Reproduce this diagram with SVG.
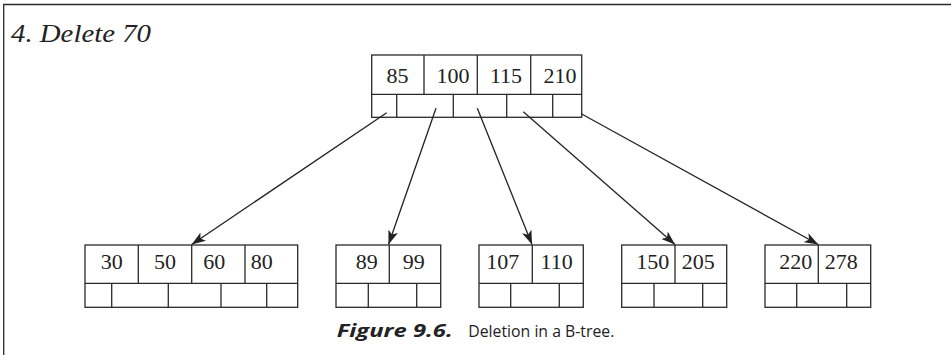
<svg xmlns="http://www.w3.org/2000/svg" width="951" height="355" viewBox="0 0 951 355">
<style>
.box{fill:#fff;stroke:#2a2a2a;stroke-width:1.3}
.ln{stroke:#2a2a2a;stroke-width:1.3;fill:none}
.k{font-family:"Liberation Serif",serif;font-size:22px;fill:#222;text-anchor:middle}
.conn{stroke:#222;stroke-width:1.3;fill:none;marker-end:url(#ah)}
.cap{font-family:"Open Sans","Liberation Sans",sans-serif;fill:#222}
</style>
<defs>
<marker id="ah" viewBox="0 0 14 10" refX="14" refY="5" markerWidth="14" markerHeight="10" markerUnits="userSpaceOnUse" orient="auto">
<path d="M0,0 L14,5 L0,10 L3.5,5 Z" fill="#222"/>
</marker>
</defs>
<rect width="951" height="355" fill="#fff"/>
<path class="ln" d="M3.7,355 V4.5 H951" stroke-width="1.8"/>
<text x="11" y="42" font-family="Liberation Serif,serif" font-style="italic" font-size="26" fill="#222" textLength="140" lengthAdjust="spacingAndGlyphs">4. Delete 70</text>

<g id="root">
<rect class="box" x="371.7" y="55" width="210" height="62.3"/>
<path class="ln" d="M371.7,94.3 H581.7 M424,55 V94.3 M477.3,55 V94.3 M530.7,55 V94.3 M396.7,94.3 V117.3 M453.3,94.3 V117.3 M506.7,94.3 V117.3 M552.7,94.3 V117.3"/>
<text class="k" x="397.5" y="83">85</text>
<text class="k" x="453" y="83">100</text>
<text class="k" x="506" y="83">115</text>
<text class="k" x="560" y="83">210</text>
</g>

<g id="leaf1">
<rect class="box" x="85" y="245" width="212.7" height="62.3"/>
<path class="ln" d="M85,283.3 H297.7 M138.3,245 V283.3 M191.7,245 V283.3 M245,245 V283.3 M111.7,283.3 V307.3 M168.3,283.3 V307.3 M221,283.3 V307.3 M266.7,283.3 V307.3"/>
<text class="k" x="111.7" y="269">30</text>
<text class="k" x="165" y="269">50</text>
<text class="k" x="214.2" y="269">60</text>
<text class="k" x="261.7" y="269">80</text>
</g>

<g id="leaf2">
<rect class="box" x="336" y="245" width="104.7" height="62.3"/>
<path class="ln" d="M336,283.3 H440.7 M389.3,245 V283.3 M368.3,283.3 V307.3 M416.7,283.3 V307.3"/>
<text class="k" x="366.7" y="269">89</text>
<text class="k" x="413.8" y="269">99</text>
</g>

<g id="leaf3">
<rect class="box" x="479" y="245" width="104.3" height="62.3"/>
<path class="ln" d="M479,283.3 H583.3 M532.3,245 V283.3 M510.7,283.3 V307.3 M559.3,283.3 V307.3"/>
<text class="k" x="502.8" y="269">107</text>
<text class="k" x="556.7" y="269">110</text>
</g>

<g id="leaf4">
<rect class="box" x="621.7" y="245" width="105" height="62.3"/>
<path class="ln" d="M621.7,283.3 H726.7 M675,245 V283.3 M654,283.3 V307.3 M702.7,283.3 V307.3"/>
<text class="k" x="652.8" y="269">150</text>
<text class="k" x="698.3" y="269">205</text>
</g>

<g id="leaf5">
<rect class="box" x="765" y="245" width="105.7" height="62.3"/>
<path class="ln" d="M765,283.3 H870.7 M818.3,245 V283.3 M796.7,283.3 V307.3 M846.7,283.3 V307.3"/>
<text class="k" x="795.8" y="269">220</text>
<text class="k" x="841.3" y="269">278</text>
</g>

<g id="connectors">
<line class="conn" x1="386.7" y1="112.7" x2="191.7" y2="244.5"/>
<line class="conn" x1="436" y1="108.3" x2="388.5" y2="244.5"/>
<line class="conn" x1="477.3" y1="108.3" x2="532" y2="244.5"/>
<line class="conn" x1="523.3" y1="111.7" x2="675" y2="244.5"/>
<line class="conn" x1="581.7" y1="114" x2="818.3" y2="244.5"/>
</g>

<g id="caption">
<text class="cap" x="336.7" y="337.3" font-size="17" font-weight="bold" font-style="italic" textLength="116" lengthAdjust="spacingAndGlyphs">Figure 9.6.</text>
<text class="cap" x="468.3" y="337.3" font-size="15.5" textLength="146" lengthAdjust="spacingAndGlyphs">Deletion in a B-tree.</text>
</g>
</svg>
